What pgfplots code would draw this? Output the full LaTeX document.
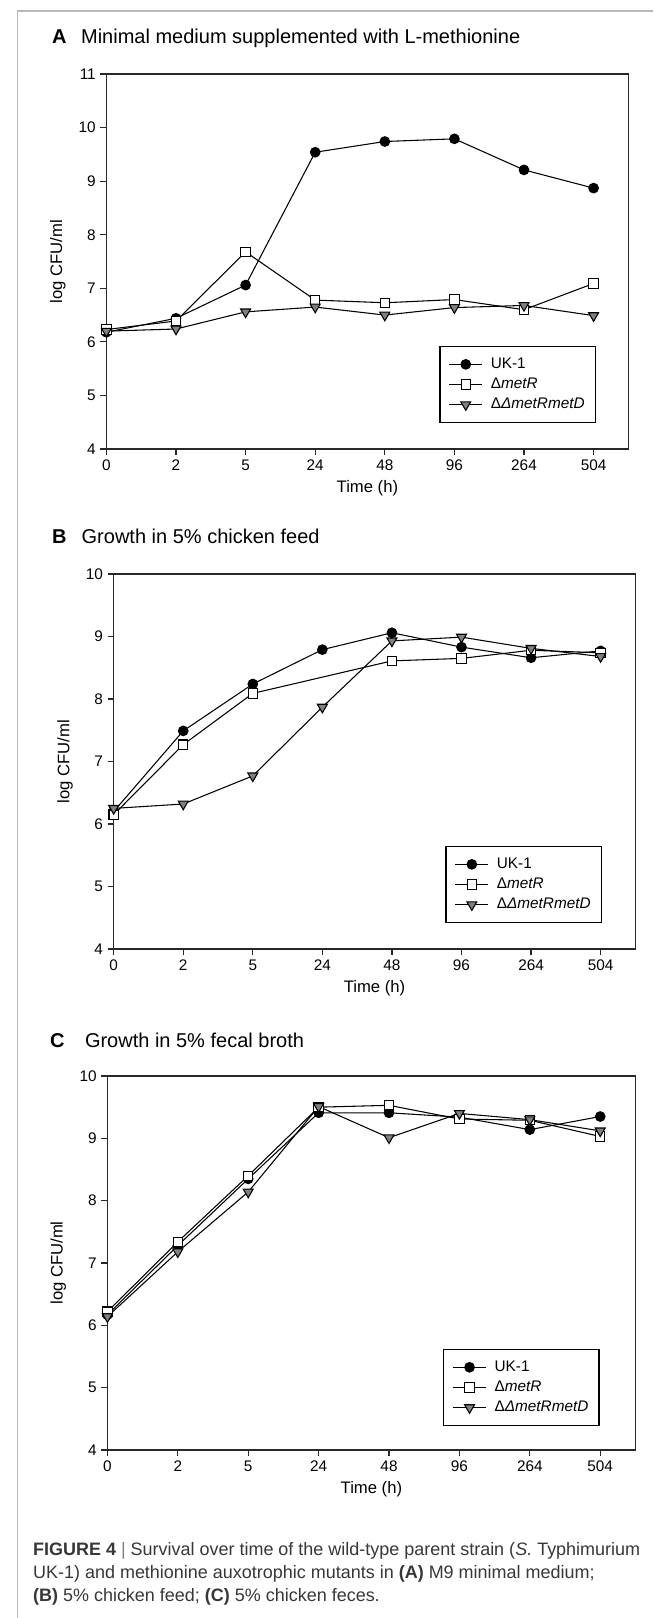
\documentclass[border=0pt]{standalone}
\usepackage{pgfplots}
\pgfplotsset{compat=1.18}
\usepackage{fontspec}
\setmainfont{Liberation Sans}
\usepackage{graphicx}

\definecolor{trigray}{RGB}{128,128,128}
\definecolor{framegray}{RGB}{185,185,185}
\definecolor{capcol}{RGB}{55,55,55}
\definecolor{axcol}{RGB}{40,40,40}

\pgfplotsset{
  panel/.style={
    scale only axis, anchor=south west,
    xmin=0, xmax=7.5, ymin=4,
    xtick={0,...,7}, xticklabels={0,2,5,24,48,96,264,504},
    tick align=outside, tick pos=left, major tick length=4.5pt,
    every tick/.style={axcol, line width=0.9pt},
    axis line style={axcol, line width=1.1pt},
    clip=false,
    tick label style={font=\fontsize{11.5}{13}\selectfont},
    /pgf/number format/assume math mode=true,
    label style={font=\fontsize{12.5}{14}\selectfont},
    xlabel={Time (h)}, ylabel={log CFU/ml},
    x label style={at={(axis description cs:0.5,-0.105)}, anchor=center},
    y label style={at={(axis description cs:-0.093,0.5)}, anchor=center},
    legend cell align=left,
    legend style={anchor=south west, draw=black, line width=0.9pt,
      font=\fontsize{11.5}{13}\selectfont,
      inner xsep=6.5pt, inner ysep=7.2pt, row sep=2.7pt, column sep=4.5pt,
      nodes={inner sep=1.5pt}},
    legend image code/.code={\draw[mark repeat=2, mark phase=2, ##1] plot coordinates {(0pt,0pt) (12.4pt,0pt) (24.8pt,0pt)};},
  },
  uk/.style={black, line width=0.8pt, mark=*, mark size=3.6pt, mark options={solid, fill=black, draw=black}},
  mr/.style={black, line width=0.8pt, mark=square*, mark size=3.5pt, mark options={solid, fill=white, draw=black, line width=0.8pt}},
  mrd/.style={black, line width=0.8pt, mark=triangle*, mark size=4.3pt, mark options={solid, rotate=180, fill=trigray, draw=black, line width=0.8pt}},
}

\newsavebox\capone
\begin{document}
\sbox\capone{\fontsize{13.5}{15}\selectfont\color{capcol}\textbf{FIGURE 4} {\color{gray}|} Survival over time of the wild-type parent strain (\textit{S.} Typhimurium}
\pgfmathsetmacro\capscale{455.25/\wd\capone}
\begin{tikzpicture}
\useasboundingbox (0,0) rectangle (484.5pt,-1213.5pt);
% frame
\draw[framegray, line width=1.2pt] (7.5pt,-1213.5pt) -- (7.5pt,-8.25pt) -- (484.5pt,-8.25pt);

% ---------------- Panel A ----------------
\node[anchor=base west, inner sep=0, font=\fontsize{15}{18}\selectfont\bfseries] at (33.4pt,-32.6pt) {A};
\node[anchor=base west, inner sep=0, font=\fontsize{15}{18}\selectfont] at (55.1pt,-32.6pt) {Minimal medium supplemented with L-methionine};
\begin{axis}[panel, at={(74.25pt,-336.75pt)}, width=391.5pt, height=281.25pt,
  ymax=11, ytick={4,...,11},
  legend style={at={(0.638,0.069)}}]
\addplot[uk] coordinates {(0,6.18) (1,6.44) (2,7.06) (3,9.54) (4,9.74) (5,9.79) (6,9.21) (7,8.87)};
\addlegendentry{UK-1}
\addplot[mr] coordinates {(0,6.23) (1,6.39) (2,7.68) (3,6.78) (4,6.73) (5,6.79) (6,6.60) (7,7.09)};
\addlegendentry{Δ\textit{metR}}
\addplot[mrd] coordinates {(0,6.20) (1,6.24) (2,6.56) (3,6.65) (4,6.50) (5,6.64) (6,6.68) (7,6.49)};
\addlegendentry{Δ\textit{ΔmetRmetD}}
\end{axis}

% ---------------- Panel B ----------------
\node[anchor=base west, inner sep=0, font=\fontsize{15}{18}\selectfont\bfseries] at (33.4pt,-407.25pt) {B};
\node[anchor=base west, inner sep=0, font=\fontsize{15}{18}\selectfont] at (55.5pt,-407.25pt) {Growth in 5\% chicken feed};
\begin{axis}[panel, at={(79.7pt,-711.75pt)}, width=391.3pt, height=281.25pt,
  ymax=10, ytick={4,...,10},
  legend style={at={(0.636,0.069)}}]
\addplot[uk] coordinates {(0,6.20) (1,7.49) (2,8.24) (3,8.79) (4,9.06) (5,8.83) (6,8.66) (7,8.77)};
\addlegendentry{UK-1}
\addplot[mr] coordinates {(0,6.15) (1,7.27) (2,8.09) (4,8.61) (5,8.65) (6,8.78) (7,8.74)};
\addlegendentry{Δ\textit{metR}}
\addplot[mrd] coordinates {(0,6.25) (1,6.32) (2,6.77) (3,7.87) (4,8.93) (5,8.99) (6,8.81) (7,8.68)};
\addlegendentry{Δ\textit{ΔmetRmetD}}
\end{axis}

% ---------------- Panel C ----------------
\node[anchor=base west, inner sep=0, font=\fontsize{15}{18}\selectfont\bfseries] at (31.9pt,-785.25pt) {C};
\node[anchor=base west, inner sep=0, font=\fontsize{15}{18}\selectfont] at (58pt,-785.25pt) {Growth in 5\% fecal broth};
\begin{axis}[panel, at={(75pt,-1087.5pt)}, width=396pt, height=280.5pt,
  ymax=10, ytick={4,...,10},
  legend style={at={(0.636,0.064)}}]
\addplot[uk] coordinates {(0,6.17) (1,7.28) (2,8.35) (3,9.41) (4,9.41) (5,9.34) (6,9.14) (7,9.35)};
\addlegendentry{UK-1}
\addplot[mr] coordinates {(0,6.22) (1,7.34) (2,8.40) (3,9.50) (4,9.53) (5,9.31) (6,9.29) (7,9.03)};
\addlegendentry{Δ\textit{metR}}
\addplot[mrd] coordinates {(0,6.14) (1,7.18) (2,8.14) (3,9.51) (4,9.01) (5,9.40) (6,9.30) (7,9.12)};
\addlegendentry{Δ\textit{ΔmetRmetD}}
\end{axis}

% ---------------- Caption ----------------
\node[anchor=base west, inner sep=0] at (19.1pt,-1166.25pt) {\scalebox{\capscale}[1]{\usebox\capone}};
\node[anchor=base west, inner sep=0] at (19.1pt,-1183.5pt) {\scalebox{\capscale}[1]{\fontsize{13.5}{15}\selectfont\color{capcol}UK-1) and methionine auxotrophic mutants in \textbf{(A)} M9 minimal medium;}};
\node[anchor=base west, inner sep=0] at (19.1pt,-1200.75pt) {\scalebox{\capscale}[1]{\fontsize{13.5}{15}\selectfont\color{capcol}\textbf{(B)} 5\% chicken feed; \textbf{(C)} 5\% chicken feces.}};
\end{tikzpicture}
\end{document}
